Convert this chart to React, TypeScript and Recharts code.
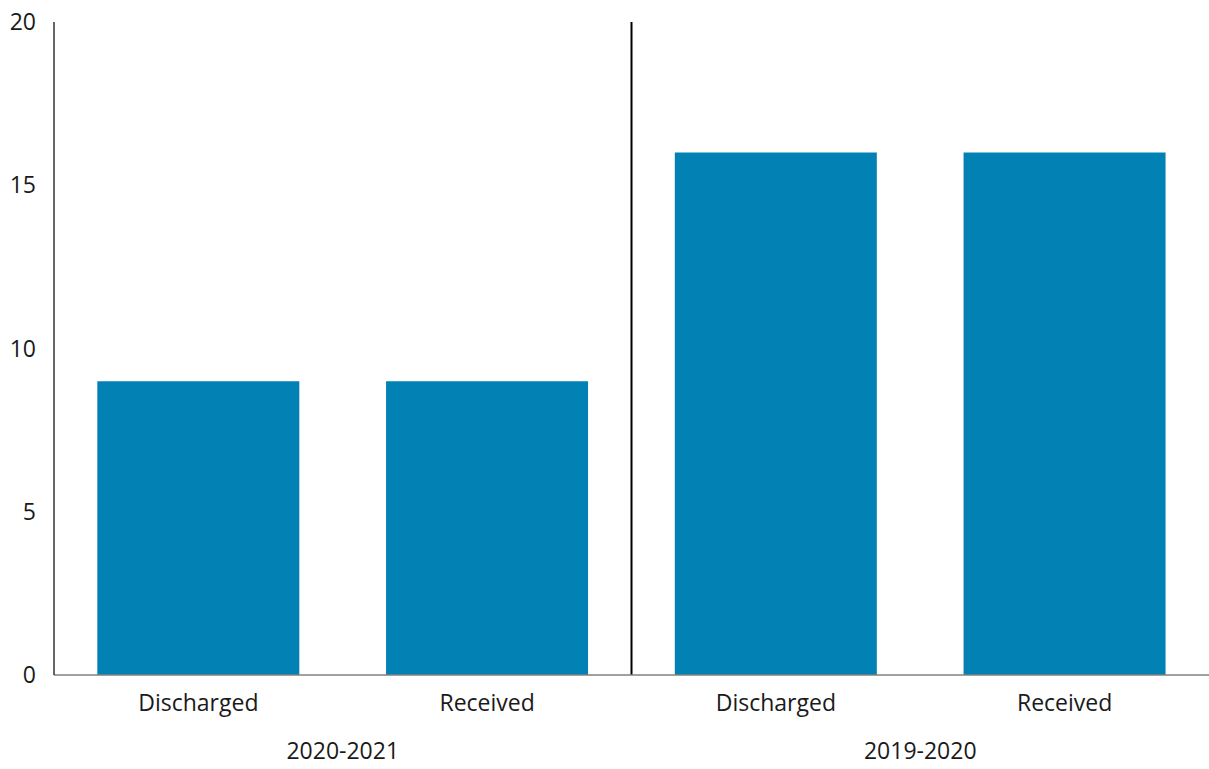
import { BarChart, Bar, XAxis, YAxis, ReferenceLine } from 'recharts';

const categories = ['Discharged', 'Received', 'Discharged', 'Received'];
const years = ['2020-2021', '2020-2021', '2019-2020', '2019-2020'];
const counts = [9, 9, 16, 16];
const yTicks = [0, 5, 10, 15, 20];

const data = categories.map((name, i) => ({ name, year: years[i], count: counts[i] }));

const font = { fontFamily: 'Open Sans', fontSize: 23, fill: '#1a1a1a' };

export default function App() {
	return (
		<div style={{ position: 'absolute', left: 0, top: 0, background: '#fff' }}>
			<BarChart
				width={1209}
				height={769}
				data={data}
				barCategoryGap="15%"
				margin={{ top: 22, right: 0, left: 0, bottom: 0 }}
			>
				<XAxis
					dataKey="name"
					tickLine={false}
					tickSize={0}
					tickMargin={20}
					height={30}
					tick={font}
					axisLine={{ stroke: '#808080', strokeWidth: 1.5 }}
				/>
				<XAxis
					xAxisId="year"
					dataKey="year"
					allowDuplicatedCategory={false}
					tickLine={false}
					axisLine={false}
					tickSize={0}
					tickMargin={38}
					height={64}
					tick={font}
				/>
				<YAxis
					width={54}
					domain={[0, 20]}
					ticks={yTicks}
					tickLine={false}
					tickSize={0}
					tickMargin={18}
					tick={font}
					axisLine={{ stroke: '#000', strokeWidth: 1.2 }}
				/>
				<ReferenceLine xAxisId="year" x="2019-2020" position="start" stroke="#000" strokeWidth={2} />
				<Bar dataKey="count" fill="#0281b5" isAnimationActive={false} />
			</BarChart>
		</div>
	);
}
